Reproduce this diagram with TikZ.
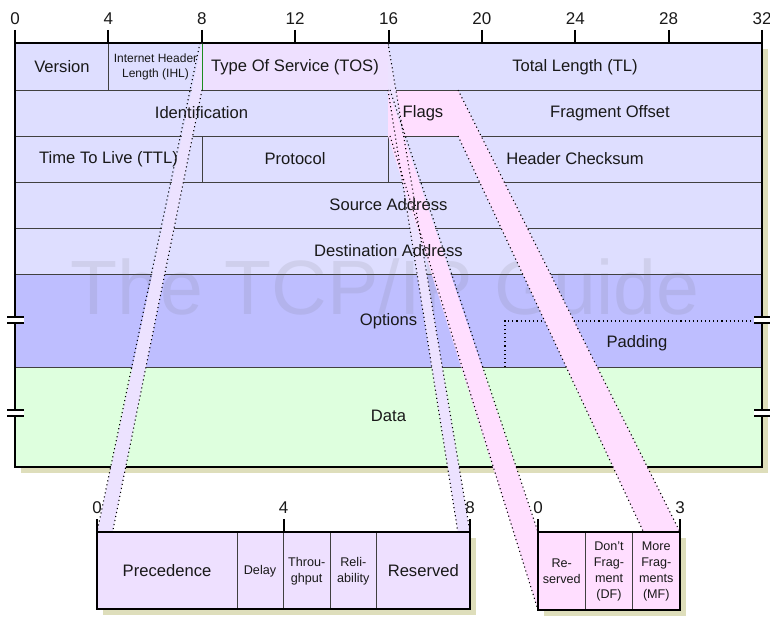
\documentclass[tikz,border=0pt]{standalone}
\usepackage{fontspec}
\setmainfont{Liberation Sans}
\definecolor{hdr}{RGB}{222,222,255}
\definecolor{tosf}{RGB}{238,224,255}
\definecolor{flagf}{RGB}{255,222,255}
\definecolor{optf}{RGB}{190,190,255}
\definecolor{dataf}{RGB}{222,255,222}
\definecolor{tosband}{RGB}{236,226,255}
\definecolor{shadowc}{RGB}{222,222,187}
\definecolor{inkc}{RGB}{25,25,25}
\begin{document}
\begin{tikzpicture}[x=1pt,y=-1pt,
  cellbox/.style={draw=black!75,line width=0.9pt},
  outerbox/.style={draw=black,line width=2pt},
  tickline/.style={draw=black,line width=2pt},
  lbl/.style={font=\fontsize{16.6}{19}\selectfont,inner sep=0pt,text=inkc},
  smalllbl/.style={font=\fontsize{12}{15.5}\selectfont,inner sep=0pt,align=center,text=inkc},
  boxsmall/.style={font=\fontsize{12.6}{16}\selectfont,inner sep=0pt,align=center,text=inkc},
  numlbl/.style={font=\fontsize{17}{20}\selectfont,inner sep=0pt,text=inkc},
  dotline/.style={draw=black,line width=1.1pt,dash pattern=on 1.1pt off 3pt},
  breakmark/.style={draw=black,line width=1.4pt}]
\useasboundingbox (0,0) rectangle (770,618);
% ---- main table shadow
\fill[shadowc] (21,49) rectangle (768,473);
% ---- cells
\filldraw[cellbox,fill=hdr] (15,43) rectangle (108.5,90);
\filldraw[cellbox,fill=hdr] (108.5,43) rectangle (202,90);
\filldraw[cellbox,fill=tosf] (202,43) rectangle (388,90);
\filldraw[cellbox,fill=hdr] (388,43) rectangle (762,90);
\filldraw[cellbox,fill=hdr] (15,90) rectangle (388,136);
\filldraw[cellbox,fill=flagf] (388,90) rectangle (458,136);
\filldraw[cellbox,fill=hdr] (458,90) rectangle (762,136);
\filldraw[cellbox,fill=hdr] (15,136) rectangle (202,182);
\filldraw[cellbox,fill=hdr] (202,136) rectangle (388,182);
\filldraw[cellbox,fill=hdr] (388,136) rectangle (762,182);
\filldraw[cellbox,fill=hdr] (15,182) rectangle (762,228);
\filldraw[cellbox,fill=hdr] (15,228) rectangle (762,274);
\filldraw[cellbox,fill=optf] (15,274) rectangle (762,367);
\filldraw[cellbox,fill=dataf] (15,367) rectangle (762,467);
\draw[green!50!black,line width=1pt] (202,43) -- (202,90);
% watermark
\node[font=\fontsize{77}{80}\selectfont,text=black!60,text opacity=0.12,inner sep=0pt] (wm) at (385,287) {The TCP/IP Guide};
% padding
\draw[dotline] (505,367) -- (505,321) -- (762,321);
% outer border
\draw[outerbox] (15,43) rectangle (762,467);
% top ticks
\foreach \i/\t in {0/0,1/4,2/8,3/12,4/16,5/20,6/24,7/28,8/32} {
  \draw[tickline] ({15+\i*93.375},30) -- ({15+\i*93.375},43);
  \node[numlbl] (tick\i) at ({15+\i*93.375},19) {\t};
}
% break marks
\foreach \y in {320,413} {
  \fill[white] (7,\y-3) rectangle (24,\y+3);
  \draw[breakmark] (7,\y-3) -- (24,\y-3) (7,\y+3) -- (24,\y+3);
  \fill[white] (754,\y-3) rectangle (770,\y+3);
  \draw[breakmark] (754,\y-3) -- (770,\y-3) (754,\y+3) -- (770,\y+3);
}
% ---- expansion bands
\fill[tosband] (202,43) -- (97,532) -- (97,609) -- (202,90) -- cycle;
\fill[tosband] (388,43) -- (470,532) -- (470,609) -- (388,90) -- cycle;
\fill[flagf] (388,90) -- (538,532) -- (538,610) -- (388,136) -- cycle;
\fill[flagf] (458,90) -- (680,532) -- (680,610) -- (458,136) -- cycle;
\draw[dotline] (200,43) -- (97,532);
\draw[dotline] (202,90) -- (97,609);
\draw[dotline] (388,43) -- (470,532);
\draw[dotline] (388,90) -- (470,609);
\draw[dotline] (390,90) -- (538,532);
\draw[dotline] (390,136) -- (538,610);
\draw[dotline] (458,90) -- (680,532);
\draw[dotline] (458,136) -- (680,610);
% ---- main labels
\node[lbl] (ver) at (62,67) {Version};
\node[smalllbl] (ihl) at (155.5,67) {Internet Header\\Length (IHL)};
\node[lbl] (tos) at (295,67) {Type Of Service (TOS)};
\node[lbl] (tl) at (575,67) {Total Length (TL)};
\node[lbl] (ident) at (201.5,113) {Identification};
\node[lbl] (flags) at (423,113) {Flags};
\node[lbl] (fo) at (610,113) {Fragment Offset};
\node[lbl] (ttl) at (108.5,159) {Time To Live (TTL)};
\node[lbl] (proto) at (295,159) {Protocol};
\node[lbl] (hc) at (575,159) {Header Checksum};
\node[lbl] (src) at (388.5,205) {Source Address};
\node[lbl] (dst) at (388.5,251) {Destination Address};
\node[lbl] (opt) at (388.5,321) {Options};
\node[lbl] (pad) at (637,343) {Padding};
\node[lbl] (data) at (388.5,416) {Data};
% ---- TOS detail box
\fill[shadowc] (103,538) rectangle (476,615);
\filldraw[cellbox,fill=tosf] (97,532) rectangle (237,609);
\filldraw[cellbox,fill=tosf] (237,532) rectangle (283.5,609);
\filldraw[cellbox,fill=tosf] (283.5,532) rectangle (330,609);
\filldraw[cellbox,fill=tosf] (330,532) rectangle (376.5,609);
\filldraw[cellbox,fill=tosf] (376.5,532) rectangle (470,609);
\draw[outerbox] (97,532) rectangle (470,609);
\foreach \x/\t/\n in {97/0/a,283.5/4/b,470/8/c} {
  \draw[tickline] (\x,519) -- (\x,532);
  \node[numlbl] (tostick\n) at (\x,508) {\t};
}
\node[lbl] (prec) at (167,571) {Precedence};
\node[boxsmall] (delay) at (260,571) {Delay};
\node[boxsmall] (thru) at (306.7,571) {Throu-\\ghput};
\node[boxsmall] (rel) at (353.3,571) {Reli-\\ability};
\node[lbl] (res) at (423.3,571) {Reserved};
% ---- Flags detail box
\fill[shadowc] (544,538) rectangle (686,616);
\filldraw[cellbox,fill=flagf] (538,532) rectangle (585.3,610);
\filldraw[cellbox,fill=flagf] (585.3,532) rectangle (632.7,610);
\filldraw[cellbox,fill=flagf] (632.7,532) rectangle (680,610);
\draw[outerbox] (538,532) rectangle (680,610);
\foreach \x/\t/\n in {538/0/a,680/3/b} {
  \draw[tickline] (\x,519) -- (\x,532);
  \node[numlbl] (flagtick\n) at (\x,508) {\t};
}
\node[boxsmall] (fres) at (561.7,571) {Re-\\served};
\node[boxsmall] (fdf) at (609,571) {Don't\\Frag-\\ment\\(DF)};
\node[boxsmall] (fmf) at (656.3,571) {More\\Frag-\\ments\\(MF)};
\end{tikzpicture}
\end{document}
